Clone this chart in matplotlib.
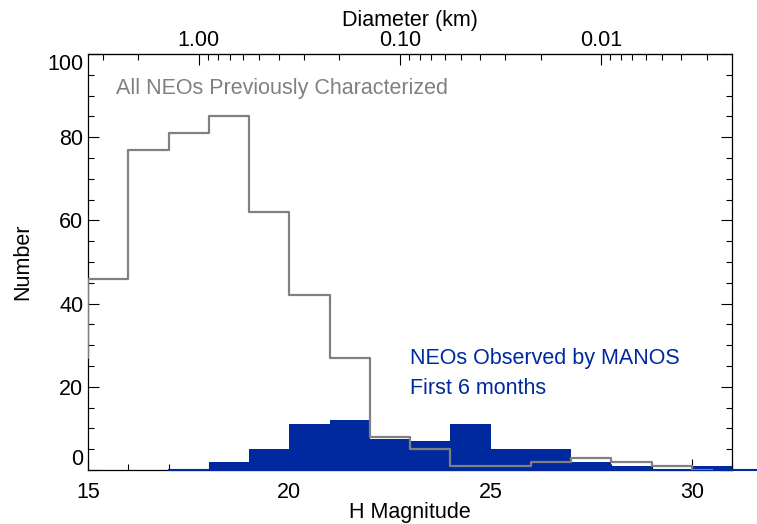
import numpy as np
import matplotlib
matplotlib.use("Agg")
import matplotlib.pyplot as plt
from matplotlib.ticker import FixedLocator, MultipleLocator

plt.rcParams['font.family'] = ['Liberation Sans', 'DejaVu Sans']

# Histogram of all previously characterized NEOs (bin centres, psym=10 style)
h_all_centres = [14.5, 15.5, 16.5, 17.5, 18.5, 19.5, 20.5, 21.5, 22.5,
                 23.5, 24.5, 25.5, 26.5, 27.5, 28.5, 29.5, 30.5]
n_all = [27, 46, 77, 81, 85, 62, 42, 27, 8, 5, 1, 1, 2, 3, 2, 1, 0]

# MANOS first 6 months (bin left edges, width 1)
h_manos = [17, 18, 19, 20, 21, 22, 23, 24, 25, 26, 27, 28, 29, 30]
n_manos = [0, 2, 5, 11, 12, 7.4, 7, 11, 5, 5, 2, 1, 0, 1]

diam_major = [1.0, 0.1, 0.01]
diam_labels = ['1.00', '0.10', '0.01']

gray = '#808080'
blue = '#0029a0'
albedo = 0.14
fs = 15.5


def h2d(h):
    return 1329.0 / np.sqrt(albedo) * 10 ** (-np.asarray(h, float) / 5.0)


def d2h(d):
    d = np.clip(np.asarray(d, float), 1e-12, None)
    return 5.0 * np.log10(1329.0 / (np.sqrt(albedo) * d))


fig = plt.figure(figsize=(7.57, 5.24), dpi=100)
ax = fig.add_axes([88 / 757, (524 - 470) / 524, (732 - 88) / 757, (470 - 54) / 524])

ax.bar(h_manos, n_manos, width=1.0, align='edge', color=blue, linewidth=0, zorder=3)
ax.plot([h_manos[0], 31.7], [0, 0], color=blue, lw=1.5, zorder=3, clip_on=False)

ax.step(h_all_centres, n_all, where='mid', color=gray, lw=1.6, zorder=4)

ax.set_xlim(15, 31)
ax.set_ylim(0, 100)
ax.set_xticks([15, 20, 25, 30])
ax.xaxis.set_minor_locator(MultipleLocator(1))
ax.set_yticks([0, 20, 40, 60, 80, 100])
ax.yaxis.set_minor_locator(MultipleLocator(5))
ax.tick_params(which='both', direction='in', top=False, right=True, labelsize=fs, width=0.8)
ax.tick_params(axis='x', pad=9)
ax.tick_params(which='major', length=8)
ax.tick_params(which='minor', length=4)
for s in ax.spines.values():
    s.set_linewidth(0.9)

ax.set_xlabel('H Magnitude', fontsize=fs, labelpad=-1)
ax.set_ylabel('Number', fontsize=fs, labelpad=10)

ylabels = ax.get_yticklabels()
ylabels[0].set_va('bottom')
ylabels[-1].set_va('top')

secax = ax.secondary_xaxis('top', functions=(h2d, d2h))
secax.set_xticks(diam_major)
secax.set_xticklabels(diam_labels)
minor = [k * 10.0 ** e for e in (-3, -2, -1, 0) for k in range(2, 10)]
secax.xaxis.set_minor_locator(FixedLocator(minor))
secax.tick_params(which='both', direction='in', labelsize=fs, width=0.8, pad=2)
secax.tick_params(which='major', length=8)
secax.tick_params(which='minor', length=4)
secax.set_xlabel('Diameter (km)', fontsize=fs, labelpad=3)

ax.text(15.7, 91.8, 'All NEOs Previously Characterized', color=gray,
        fontsize=fs, va='center', ha='left')
ax.text(23.0, 26.9, 'NEOs Observed by MANOS', color=blue,
        fontsize=fs, va='center', ha='left')
ax.text(23.0, 19.7, 'First 6 months', color=blue,
        fontsize=fs, va='center', ha='left')

fig.savefig('out.png', dpi=100)
